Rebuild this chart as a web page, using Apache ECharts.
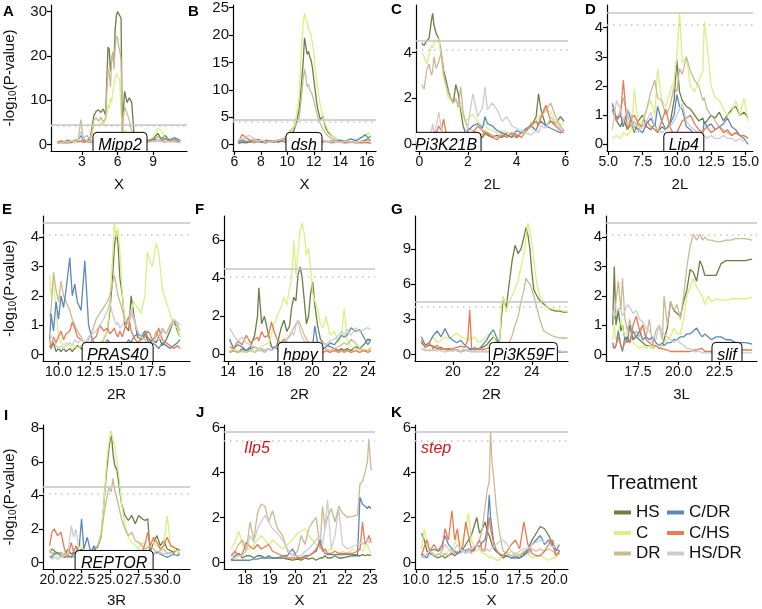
<!DOCTYPE html>
<html><head><meta charset="utf-8">
<script src="https://cdn.jsdelivr.net/npm/echarts@6/dist/echarts.min.js"></script>
<style>html,body{margin:0;padding:0;background:#fff}#c{width:762px;height:609px}</style>
</head><body><div id="c"></div>
<script>
// ---------------- DATA ----------------
const TREATMENTS = ['HS','C','DR','C/DR','C/HS','HS/DR'];
const THRESH_AI = [4.5, 4.1];
const THRESH_JK = [5.8, 5.4];

// Panel A (X, Mipp2)
const A_x    = [0.9,1.2,1.5,1.8,2.1,2.4,2.7,2.9,3.1,3.4,3.7,4.0,4.2,4.4,4.6,4.8,5.0,5.1,5.2,5.3,5.4,5.5,5.6,5.7,5.8,5.9,6.0,6.1,6.2,6.3,6.4,6.5,6.6,6.8,7.0,7.2,7.4,7.7,8.0,8.4,8.8,9.1,9.4,9.7,10.0,10.4,10.8,11.1,11.3];
const A_HS   = [0.3,0.2,0.4,0.3,0.5,0.4,0.6,0.8,0.5,0.7,1.5, 6.5,7.5,7.8,7.2,8.0,6.5, 15,22,21.5,16.5,19,20.5,18,26,29,30,29.5,29,28.5, 3,8,12,9.5,10.5,9.5,2, 1.2,0.8,0.6,1.0,1.5,2.5,1.2,2.0,1.0,1.3,0.8,0.6];
const A_C    = [0.2,0.3,0.2,0.4,0.3,0.5,0.4,1.0,0.6,0.5,0.8, 4.0,4.5,4.2,5.0,4.5,5.5, 7,9,8,10.5,9.5,12,13,15,16,16.3,15,14,7, 4.5,3.5,3.0,2.5,2.0,1.5,1.0, 0.5,0.4,0.5,1.0,2.0,3.7,3.0,1.5,1.0,1.5,1.0,0.8];
const A_DR   = [0.3,0.5,0.3,0.6,0.4,0.8,1.2,5.6,1.5,2.0,1.0, 5.5,6.0,5.2,6.2,5.0,6.0, 12,17,16,13,19,21,17,22,24.5,24,22,21,19, 2,6,8.5,7,5.5,3,1.0, 0.8,0.5,0.4,0.7,1.0,1.8,0.8,1.2,0.6,0.9,0.5,0.4];
const A_CDR  = [0.3,0.5,0.4,0.7,0.5,0.9,1.2,2.0,1.0,0.6,0.8, 0.5,0.4,0.6,0.5,0.4,0.6, 0.5,0.7,0.6,0.5,0.4,0.6,0.5,0.7,0.6,0.5,0.4,0.5,0.6, 0.5,0.4,0.6,0.5,0.8,1.0,0.7, 0.9,1.1,0.8,1.0,1.2,0.9,0.7,1.3,1.0,1.5,1.2,0.8];
const A_CHS  = [0.5,0.8,0.6,1.0,0.7,0.9,0.6,0.8,0.5,0.7,0.4, 0.6,0.5,0.7,0.5,0.6,0.4, 0.5,0.6,0.4,0.5,0.7,0.5,0.6,0.4,0.5,0.6,0.4,0.5,0.6, 0.4,0.5,0.7,0.6,0.8,0.5,0.6, 0.4,0.6,0.5,0.8,0.6,0.9,0.7,0.5,0.8,0.6,0.7,0.5];
const A_HSDR = [0.4,0.3,0.6,0.5,0.8,0.7,1.2,3.0,1.5,0.8,0.6, 0.5,0.4,0.6,0.3,0.5,0.4, 0.3,0.5,0.4,0.3,0.5,0.4,0.3,0.5,0.4,0.3,0.4,0.3,0.5, 0.4,0.3,0.5,0.4,0.6,0.4,0.5, 0.3,0.4,0.6,0.5,0.8,1.0,0.6,0.7,0.5,0.6,0.4,0.5];
const A_xTicks = [3,6,9];
const A_yTicks = [0,10,20,30];

// Panel B (X, dsh)
const B_x    = [6.3,6.6,6.9,7.2,7.5,7.8,8.1,8.4,8.7,9.0,9.3,9.6,9.9, 10.2,10.5,10.7,10.9, 11.0,11.1,11.2,11.3,11.4,11.5,11.6,11.7,11.8,11.9,12.0,12.1,12.2,12.3, 12.5,12.7,12.9,13.1,13.4,13.7,14.0,14.4,14.8,15.2,15.6,15.9,16.1,16.3];
const B_HS   = [0.2,0.4,0.3,0.5,0.3,0.6,0.4,0.3,0.5,0.4,0.6,0.8,1.0, 1.8,2.5,4.0,6.5, 9,12,15,19.5,18,16.5,17,16,15.4,14,12,10,8,6.5, 4.5,5.2,3.0,2.2,1.5,1.0,0.6,0.4,0.5,0.3,0.6,0.8,1.0,0.7];
const B_C    = [0.5,0.8,1.2,0.6,0.4,0.7,0.5,0.4,0.6,0.5,0.7,0.9,1.2, 2.2,3.5,5.5,9, 14,19,22,24,23,22.5,21,20.5,20,18.5,17,14,12,10, 7,5,3.5,2.5,1.5,1.0,0.5,0.4,0.6,0.8,1.2,1.5,2.2,1.6];
const B_DR   = [0.4,0.6,0.5,0.8,0.5,0.4,0.6,0.5,0.4,0.6,0.8,1.0,1.5, 2.5,3.0,3.8,5.0, 7,9.5,12,13.8,12.5,10.5,11,10,9.5,9,8,7,6,5, 3.8,2.8,2.0,1.5,1.0,0.7,0.5,0.3,0.4,0.3,0.4,0.3,0.5,0.4];
const B_CDR  = [0.3,0.8,0.5,0.4,1.0,0.6,0.4,0.8,0.5,0.7,0.4,0.6,0.5, 0.8,0.6,0.5,0.7, 0.6,0.5,0.4,0.6,0.5,0.4,0.6,0.5,0.4,0.6,0.5,0.4,0.5,0.6, 0.5,0.4,0.6,0.5,0.7,0.5,0.8,0.6,1.0,0.7,1.3,1.8,1.2,1.5];
const B_CHS  = [0.5,1.8,1.2,0.8,0.5,1.0,0.6,0.4,0.7,0.5,0.8,0.6,0.4, 0.7,0.5,0.8,0.6, 0.5,0.4,0.6,0.5,0.4,0.6,0.5,0.4,0.6,0.5,0.7,0.5,0.4,0.6, 0.5,0.7,0.5,0.4,0.3,0.5,0.4,0.3,0.5,0.4,0.3,0.4,0.3,0.2];
const B_HSDR = [0.8,1.0,1.5,1.6,0.9,0.6,0.8,0.5,0.4,0.6,0.8,1.0,1.3, 1.0,0.8,0.6,0.5, 0.4,0.6,0.5,0.4,0.5,0.6,0.4,0.5,0.6,0.4,0.5,0.6,0.5,0.4, 0.6,0.8,0.5,0.4,0.6,0.5,0.4,0.6,0.5,0.4,0.6,0.5,0.8,0.6];
const B_xTicks = [6,8,10,12,14,16];
const B_yTicks = [0,5,10,15,20,25];

// Panel C (2L, Pi3K21B)
const C_x    = [0.1,0.2,0.3,0.4,0.5,0.55, 0.6,0.7,0.8,0.9,1.0,1.1,1.2,1.3,1.4,1.5,1.6,1.7,1.8,1.9,2.0, 2.2,2.4,2.6,2.7,2.8, 3.0,3.2,3.4,3.6,3.8,4.0,4.2,4.4,4.6,4.8, 4.9,5.0,5.2,5.4,5.6,5.8,5.95];
const C_HS   = [4.4,4.3,4.5,4.6,5.4,5.7, 5.2,4.8,4.6,4.0,3.2,2.8,2.3,2.0,1.8,2.6,2.2,1.5,0.8,0.5,0.3, 0.5,0.4,0.3,0.5,0.4, 0.3,0.4,0.3,0.5,0.4,0.3,0.5,0.6,0.8,1.2, 2.2,1.5,0.8,1.0,0.9,1.2,1.0];
const C_C    = [4.0,3.8,3.5,3.9,4.3,4.2, 4.4,4.5,4.6,3.8,3.0,2.5,2.0,1.9,1.8,1.9,1.8,1.7,1.2,1.0,1.1, 1.3,1.0,0.8,0.9,0.7, 0.6,0.5,0.6,0.5,0.4,0.4,0.5,0.6,0.8,1.0, 1.2,1.3,1.5,1.4,1.0,0.8,1.0];
const C_DR   = [2.6,2.4,3.2,3.5,3.0,3.2, 3.8,3.3,3.6,4.0,3.0,2.6,2.2,2.0,1.8,2.0,1.6,2.5,1.4,1.0,0.7, 0.6,0.5,0.4,0.6,0.5, 0.4,0.3,0.5,0.4,0.3,0.4,0.5,0.6,0.8,1.0, 0.9,1.2,1.5,1.8,1.2,0.8,0.6];
const C_CDR  = [0.2,0.3,0.2,0.3,0.2,0.3, 0.2,0.3,0.2,0.3,0.4,0.3,0.2,0.3,0.2,0.3,0.2,0.3,0.5,0.4,0.6, 0.8,0.9,0.7,1.2,0.9, 0.8,0.6,0.5,0.4,0.3,0.6,0.5,0.7,0.8,0.6, 0.9,1.0,0.8,0.7,0.6,0.5,0.6];
const C_CHS  = [0.3,0.2,0.4,0.3,0.5,0.4, 0.6,0.5,0.8,0.6,1.1,0.5,0.4,0.3,0.2,0.3,0.2,0.3,0.2,0.3,0.3, 0.5,0.8,0.6,0.4,0.5, 0.3,0.2,0.4,0.3,0.5,0.4,0.3,0.6,0.9,1.0, 0.8,1.2,1.7,1.0,0.8,0.6,0.5];
const C_HSDR = [0.3,0.2,0.3,0.4,0.6,0.9, 0.5,0.8,1.4,0.7,0.5,0.4,0.3,0.2,0.3,0.2,0.3,0.2,0.4,0.5,0.8, 2.2,1.2,1.6,2.5,1.5, 1.8,1.5,1.0,1.2,0.8,0.7,0.6,0.5,0.4,0.6, 0.5,0.8,0.7,1.2,0.9,0.7,0.5];
const C_xTicks = [0,2,4,6];
const C_yTicks = [0,2,4];

// Panel D (2L, Lip4)
const D_x    = [5.3,5.6,5.9,6.1,6.4,6.7,6.9,7.2,7.5,7.8, 8.1,8.4,8.6,8.9,9.2,9.5,9.8,10.0,10.2,10.4, 10.7,11.0,11.3,11.6,11.9,12.0,12.2,12.5,12.8,13.1, 13.4,13.7,14.0,14.3,14.6,14.9,15.2];
const D_HS   = [1.2,0.8,0.6,0.9,0.5,0.7,0.4,0.8,1.0,0.6, 0.5,0.7,0.4,0.6,0.5,0.7,1.5,2.9,1.8,1.5, 1.3,1.2,1.0,0.8,0.9,0.7,0.8,1.0,0.9,1.1, 0.8,1.0,1.2,1.3,1.0,1.1,0.9];
const D_C    = [0.2,0.3,0.2,0.4,0.3,0.5,1.9,0.6,0.8,1.2, 1.5,1.0,2.6,1.5,1.3,1.8,2.2,3.0,4.5,2.8, 3.0,2.0,1.8,2.2,2.5,4.2,3.4,2.0,1.6,1.5, 1.2,1.0,1.1,1.5,1.0,1.6,0.8];
const D_DR   = [1.4,0.8,1.2,1.6,1.0,0.6,0.8,0.5,0.7,1.2, 1.8,2.2,1.6,1.5,1.0,1.3,2.0,1.8,2.6,2.4, 3.0,2.5,2.2,2.0,1.5,1.6,1.2,1.0,0.8,0.6, 0.5,0.4,0.3,0.4,0.3,0.3,0.2];
const D_CDR  = [1.4,0.9,1.0,0.6,1.2,0.8,0.6,0.5,0.4,0.7, 0.9,0.6,1.3,0.8,0.5,0.7,1.0,1.7,1.3,1.2, 0.6,0.5,0.3,0.2,0.4,0.8,0.6,0.7,0.5,0.6, 0.7,0.9,0.6,0.5,0.3,0.2,0.0];
const D_CHS  = [1.2,0.8,1.0,2.2,0.5,0.9,1.0,0.7,0.6,0.8, 0.6,0.5,0.4,0.8,1.2,0.6,0.3,0.4,0.6,0.8, 0.9,1.0,0.7,0.5,0.4,0.5,0.6,0.4,0.5,0.6, 0.4,0.5,0.3,0.4,0.3,0.3,0.2];
const D_HSDR = [0.5,1.5,1.2,0.8,1.2,1.0,0.5,0.4,0.6,0.8, 1.1,0.6,0.5,0.4,0.5,0.6,0.8,1.0,1.2,1.4, 0.8,0.6,0.5,0.3,0.4,0.3,0.2,0.3,0.2,0.2, 0.3,0.2,0.2,0.1,0.2,0.1,0.1];
const D_xTicks = [5,7.5,10,12.5,15];
const D_yTicks = [0,1,2,3,4];

// Panel E (2R, PRAS40)
const E_x    = [9.3,9.4,9.6,9.8,10.0,10.2,10.4,10.6,10.9,11.1, 11.3,11.5,11.8,12.1,12.4,12.7,13.0,13.3,13.6,13.9, 14.1,14.3,14.45,14.6,14.75,14.9,15.1,15.3,15.6,15.8, 16.0,16.3,16.6,16.9,17.1,17.3,17.5,17.8,18.0,18.3, 18.6,18.9,19.2,19.5,19.7];
const E_HS   = [0.3,0.2,0.4,0.1,0.2,0.1,0.2,0.1,0.2,0.1, 0.2,0.3,0.2,0.1,0.2,0.3,0.4,0.3,0.5,0.8, 1.5,2.5,3.6,4.2,3.8,2.6,2.0,1.0,0.8,2.0, 1.4,0.6,0.5,0.7,0.5,0.4,0.5,0.4,0.6,0.3, 0.5,0.8,1.2,0.8,0.6];
const E_C    = [2.7,2.0,2.5,1.5,0.6,0.4,0.3,0.4,0.3,0.2, 0.3,0.2,0.3,0.2,0.3,0.4,0.3,0.4,0.5,0.8, 1.8,3.2,4.5,4.0,4.3,3.5,2.0,1.2,1.0,1.5, 1.8,1.6,1.4,2.0,3.5,3.2,3.0,3.8,3.5,2.2, 1.8,1.4,1.0,0.9,0.6];
const E_DR   = [1.3,1.5,2.8,2.2,1.8,2.5,2.0,1.8,1.5,1.2, 1.0,0.8,0.6,0.3,0.5,0.8,1.2,1.4,1.6,1.8, 2.0,2.4,2.7,2.4,2.0,1.8,1.5,1.2,1.0,1.4, 1.2,0.8,0.6,0.5,0.4,0.5,0.4,0.8,0.6,0.9, 0.7,1.0,1.2,1.0,0.8];
const E_CDR  = [0.5,1.4,0.8,1.8,1.2,2.0,1.6,2.2,3.3,2.0, 2.4,1.8,1.5,3.2,1.0,0.5,0.3,0.4,0.3,0.5, 0.4,0.3,0.4,0.3,0.4,0.3,0.4,0.3,0.5,0.4, 0.6,0.7,0.6,0.8,0.6,0.5,0.4,0.3,0.2,0.4, 0.3,0.2,0.3,0.4,0.5];
const E_CHS  = [0.5,0.2,0.6,0.4,0.6,0.8,0.5,0.7,0.8,1.1, 0.9,0.6,0.5,0.4,0.3,0.5,0.6,1.0,0.8,0.9, 0.7,0.8,0.9,0.7,0.6,0.8,0.6,0.9,1.3,0.8, 0.6,0.4,0.5,0.6,0.8,0.7,0.5,0.6,0.9,0.5, 0.4,0.3,0.2,0.3,0.2];
const E_HSDR = [0.8,0.6,0.5,0.3,0.2,0.3,0.2,0.3,0.4,0.3, 0.5,0.4,0.5,0.4,0.6,0.7,0.8,1.0,1.2,1.5, 1.8,1.4,1.2,1.0,1.1,0.9,1.0,1.2,1.1,1.5, 1.3,0.8,0.6,0.5,0.4,0.3,0.4,0.6,0.5,0.8, 0.7,0.9,1.2,1.1,1.0];
const E_xTicks = [10,12.5,15,17.5];
const E_yTicks = [0,1,2,3,4];

// Panel F (2R, hppy)
const F_x    = [14.1,14.4,14.7,15.0,15.3,15.6,15.9,16.1,16.2,16.4, 16.6,16.9,17.1,17.3,17.5,17.8,18.0,18.2,18.4,18.55, 18.7,18.85,19.0,19.15,19.3,19.45,19.6,19.75,19.9,20.05, 20.2,20.4,20.6,20.8,21.0,21.3,21.6,21.9,22.1,22.3, 22.5,22.8,23.1,23.4,23.7,24.0,24.2];
const F_HS   = [0.1,0.2,0.1,0.3,0.2,0.4,1.0,2.0,3.5,1.6, 2.0,1.0,0.4,0.3,0.5,1.4,1.8,1.2,1.5,2.5, 3.0,2.8,4.2,4.6,4.0,2.8,1.6,2.0,3.2,3.8, 2.6,1.5,0.8,0.6,0.5,0.4,0.3,0.2,0.3,0.2, 0.3,0.2,0.4,0.3,0.5,0.8,0.7];
const F_C    = [0.2,0.3,0.2,0.1,0.2,0.3,0.2,0.3,0.2,0.4, 0.5,0.6,1.0,1.6,2.0,2.5,3.0,2.6,3.5,4.0, 6.0,4.2,5.4,6.5,6.9,6.3,5.2,5.6,4.5,3.2, 2.8,2.4,1.6,1.4,2.0,1.0,1.2,0.6,1.0,2.4, 0.8,0.4,0.3,0.2,0.3,0.2,0.4];
const F_DR   = [0.1,0.2,0.1,0.2,0.1,0.2,0.1,0.2,0.1,0.2, 0.1,0.3,0.2,0.3,0.4,0.5,0.6,0.8,1.0,1.2, 1.4,1.6,1.8,1.6,1.3,1.0,0.8,0.6,0.5,0.4, 0.3,0.3,0.2,0.3,0.3,0.2,0.3,0.4,0.5,0.6, 0.5,0.8,0.6,0.3,0.2,0.2,0.3];
const F_CDR  = [0.8,0.3,0.5,0.4,0.2,0.3,0.4,0.3,0.2,0.3, 0.2,0.3,0.2,0.4,0.3,0.2,0.3,0.2,0.3,0.2, 0.3,0.2,0.3,0.2,0.3,0.2,0.3,0.2,0.3,0.5, 1.5,0.6,0.4,0.3,0.4,0.6,0.5,0.8,1.0,0.9, 1.0,1.4,1.2,1.3,0.9,0.5,0.8];
const F_CHS  = [0.4,0.3,0.7,0.5,1.0,0.6,0.8,0.9,0.7,1.2, 0.9,1.0,1.7,1.2,0.8,0.6,0.8,0.6,0.4,0.5, 0.3,0.4,0.3,0.2,0.3,0.2,0.3,0.2,0.2,0.1, 0.2,0.1,0.2,0.1,0.2,0.1,0.2,0.1,0.2,0.1, 0.2,0.1,0.2,0.1,0.2,0.1,0.2];
const F_HSDR = [1.4,1.0,0.7,0.9,0.6,0.5,0.4,0.3,0.4,0.3, 0.2,0.3,0.2,0.3,0.4,0.5,0.6,0.8,0.9,1.2, 1.0,1.5,1.8,1.2,0.9,0.7,0.5,0.4,0.3,0.4, 0.5,0.4,0.5,0.6,0.5,0.7,0.8,1.0,1.2,1.0, 1.3,1.0,1.4,1.2,1.3,1.4,1.3];
const F_xTicks = [14,16,18,20,22,24];
const F_yTicks = [0,2,4,6];

// Panel G (2R, Pi3K59F)
const G_x    = [18.4,18.6,18.8,19.0,19.2,19.4,19.6,19.8,20.0,20.2, 20.4,20.6,20.75,20.85,20.95,21.1,21.3,21.5,21.7,21.9, 22.05,22.2,22.35,22.45,22.55,22.7,22.85,23.0,23.15,23.3, 23.45,23.6,23.7,23.8,23.9,24.0,24.1,24.25,24.4,24.6, 24.8,25.0,25.2,25.4,25.6,25.8];
const G_HS   = [1.0,0.6,0.8,0.7,0.5,0.6,0.4,0.5,0.3,0.4, 0.3,0.4,0.3,0.4,0.5,0.4,0.5,0.6,0.8,1.2, 1.5,1.2,0.8,3.0,4.8,4.0,6.0,8.0,9.3,8.6, 9.0,10.0,10.8,10.2,9.0,7.0,5.5,5.0,4.6,4.3, 4.0,3.8,3.7,3.7,3.6,3.6];
const G_C    = [1.2,0.6,1.0,1.5,1.0,1.2,1.5,1.3,1.6,1.8, 1.5,1.4,1.2,1.5,1.3,1.5,1.0,1.2,1.5,1.8, 1.6,1.0,0.5,4.0,5.0,3.6,4.5,5.0,5.6,6.2, 7.5,8.5,10.0,11.2,10.5,9.5,8.0,6.0,5.0,4.5, 4.0,3.9,3.8,3.8,3.7,3.7];
const G_DR   = [0.5,0.4,0.3,0.4,0.3,0.5,0.4,0.3,0.4,0.3, 0.2,0.3,0.4,0.3,0.2,0.3,0.2,0.3,0.2,0.3, 0.3,0.2,0.3,0.4,0.5,0.8,1.0,1.6,2.5,3.2, 4.5,5.5,6.5,6.2,6.0,5.5,5.0,4.0,3.0,2.0, 1.8,1.6,1.5,1.4,1.4,1.4];
const G_CDR  = [1.5,0.8,1.0,1.6,2.0,1.5,2.2,1.5,1.2,1.0, 1.2,0.8,0.6,0.5,0.4,0.6,0.4,0.8,1.2,1.8, 2.1,1.5,1.0,1.1,0.8,0.5,0.3,0.2,0.2,0.3, 0.2,0.2,0.3,0.2,0.2,0.3,0.2,0.2,0.3,0.2, 0.2,0.2,0.3,0.2,0.2,0.2];
const G_CHS  = [1.2,0.6,1.0,0.5,0.8,0.4,0.5,0.4,0.5,0.6, 0.7,0.6,1.2,3.8,0.5,0.4,0.5,0.4,0.5,0.6, 0.4,0.3,0.2,0.3,0.2,0.3,0.2,0.3,0.2,0.3, 0.2,0.2,0.3,0.2,0.3,0.2,0.2,0.3,0.2,0.2, 0.3,0.2,0.2,0.3,0.2,0.2];
const G_HSDR = [0.5,0.3,0.4,0.3,0.4,0.3,0.2,0.3,0.3,0.4, 0.3,0.4,0.3,0.2,0.3,0.2,0.3,0.2,0.3,0.2, 0.3,0.2,0.3,0.2,0.2,0.3,0.2,0.2,0.3,0.2, 0.2,0.3,0.2,0.2,0.3,0.2,0.2,0.3,0.2,0.2, 0.3,0.2,0.2,0.3,0.2,0.2];
const G_xTicks = [20,22,24];
const G_yTicks = [0,3,6,9];

// Panel H (3L, slif)
const H_x    = [15.95,16.05,16.15,16.3,16.45,16.55,16.7,16.85,17.0,17.2, 17.4,17.6,17.8,18.0,18.2,18.4,18.6,18.8,19.0,19.1, 19.3,19.5,19.7,19.9,20.1,20.3,20.5,20.7,20.9,21.1, 21.3,21.45,21.6,21.8,22.0,22.3,22.6,22.9,23.2,23.5, 23.8,24.1,24.5];
const H_HS   = [1.0,3.0,1.0,1.5,0.8,1.0,0.5,0.6,0.4,0.8, 0.6,0.5,0.4,0.3,0.3,0.2,0.3,0.2,0.3,0.5, 0.9,1.8,1.5,1.4,1.3,1.8,2.2,2.9,2.8,2.5, 3.2,3.0,2.7,2.7,2.7,2.7,3.1,3.2,3.2,3.2, 3.2,3.2,3.25];
const H_C    = [0.5,1.0,0.5,0.8,1.2,0.9,0.6,0.8,1.0,0.4, 0.3,0.2,0.3,0.2,0.3,0.2,0.3,0.2,0.3,0.4, 0.5,0.6,0.9,0.7,0.7,1.2,2.0,2.3,2.6,2.3, 2.1,2.0,1.7,2.0,1.8,1.9,1.85,1.85,1.9,1.9, 1.9,1.9,1.95];
const H_DR   = [1.5,1.2,1.8,2.5,1.5,2.6,1.2,0.8,1.2,0.5, 0.8,0.6,1.0,0.6,1.2,0.3,0.8,1.0,0.5,2.0, 1.0,1.8,1.5,1.7,1.2,2.0,3.0,3.7,4.1,3.9, 4.1,3.9,4.0,3.9,3.9,3.85,3.85,3.9,3.9,3.95, 3.95,3.95,3.9];
const H_CDR  = [0.4,0.2,0.3,0.8,0.3,0.1,0.6,0.4,1.0,0.5, 0.6,0.8,0.5,0.6,0.5,0.6,0.4,0.3,0.4,0.3, 0.4,0.4,0.5,0.5,0.6,0.6,0.7,0.7,0.8,0.9, 0.7,0.6,0.7,0.6,0.5,0.6,0.6,0.5,0.5,0.4, 0.4,0.4,0.35];
const H_CHS  = [0.3,0.2,0.3,0.6,0.3,0.2,0.4,0.5,0.4,1.0, 1.3,0.8,1.0,0.5,0.4,0.3,0.3,0.2,0.2,0.2, 0.15,0.1,0.1,0.1,0.1,0.1,0.1,0.1,0.15,0.15, 0.2,0.2,0.1,0.1,0.1,0.1,0.1,0.15,0.2,0.15, 0.15,0.15,0.15];
const H_HSDR = [1.5,1.3,1.4,1.6,1.5,1.3,1.5,1.7,1.6,1.4, 1.5,1.2,1.1,0.9,0.8,0.6,0.5,1.0,0.8,0.7, 0.6,0.5,0.4,0.5,0.4,0.3,0.2,0.2,0.1,0.1, 0.1,0.05,0.05,0.05,0.05,0.05,0.05,0.05,0.05,0.05, 0.05,0.05,0.05];
const H_xTicks = [17.5,20,22.5];
const H_yTicks = [0,1,2,3,4];

// Panel I (3R, REPTOR)
const I_x    = [19.7,19.9,20.1,20.4,20.7,21.0,21.3,21.6,21.8,22.0, 22.3,22.5,22.7,23.0,23.3,23.6,23.9,24.2,24.45,24.7, 24.9,25.1,25.25,25.4,25.6,25.8,26.0,26.3,26.6,26.9, 27.2,27.5,27.8,28.1,28.3,28.5,28.8,29.1,29.4,29.7, 30.0,30.3,30.6,30.9,31.1];
const I_HS   = [0.6,0.8,0.7,0.5,0.6,0.4,0.8,0.5,0.6,0.5, 0.7,0.8,0.6,0.5,0.6,0.8,0.9,1.5,3.5,5.5, 6.8,7.8,6.5,5.8,5.5,4.5,3.5,2.8,2.5,2.8, 2.3,2.8,2.6,2.5,2.6,0.6,1.2,1.6,1.0,1.3, 0.8,0.7,0.6,0.8,0.7];
const I_C    = [0.8,0.6,0.5,0.3,0.4,0.6,0.4,0.3,0.5,0.3, 1.2,0.9,0.8,0.6,0.7,0.8,1.0,1.8,3.5,6.0, 7.2,7.8,7.3,7.0,6.0,5.0,3.5,2.2,1.5,1.2, 1.0,0.8,1.2,1.0,0.9,1.0,1.2,1.0,0.8,1.0, 2.8,1.0,0.8,0.6,0.8];
const I_DR   = [0.7,0.5,0.6,0.5,0.6,0.4,0.3,0.4,0.3,0.4, 0.3,0.5,0.4,0.5,0.6,0.8,1.0,1.5,2.8,3.8, 4.5,4.2,5.0,4.3,3.8,3.2,2.6,2.0,1.6,1.8, 1.3,1.2,1.0,0.8,0.9,1.0,0.8,0.6,0.7,0.8, 0.5,0.6,0.5,0.4,0.5];
const I_CDR  = [0.4,0.3,0.5,0.6,0.4,0.3,0.4,0.3,0.5,0.6, 1.0,2.6,0.8,1.5,0.6,1.0,0.3,0.2,0.2,0.3, 0.2,0.2,0.3,0.2,0.2,0.3,0.2,0.2,0.3,0.2, 0.3,0.4,0.3,0.4,0.5,0.4,0.5,0.6,0.5,0.4, 0.3,0.4,0.5,0.4,0.5];
const I_CHS  = [1.0,1.8,2.0,1.6,1.8,0.8,0.3,1.2,0.6,1.0, 0.4,0.5,0.6,0.5,0.4,0.3,0.2,0.3,0.2,0.2, 0.3,0.2,0.2,0.3,0.2,0.3,0.3,0.4,0.3,0.4, 0.5,0.4,0.6,1.2,1.8,1.0,1.5,1.2,0.8,1.0, 1.5,1.0,0.9,0.8,0.7];
const I_HSDR = [0.3,0.2,0.3,0.2,0.3,0.4,0.5,2.2,1.5,2.0, 0.6,0.4,0.3,0.4,0.3,0.4,0.3,0.3,0.4,0.3, 0.4,0.5,0.4,0.5,0.4,0.3,0.3,0.2,0.3,0.2, 0.2,0.3,0.2,0.3,0.4,0.5,0.6,0.5,0.6,0.5, 0.6,0.5,0.4,0.5,0.6];
const I_xTicks = [20,22.5,25,27.5,30];
const I_yTicks = [0,2,4,6,8];

// Panel J (X, Ilp5)
const J_x    = [17.45,17.6,17.75,17.9,18.05,18.2,18.35,18.5,18.65,18.8, 18.95,19.1,19.3,19.5,19.7,19.9,20.1,20.25,20.4,20.55, 20.7,20.85,21.0,21.1,21.2,21.3,21.45,21.6,21.75,21.9, 22.1,22.3,22.5,22.6,22.7,22.8,22.9,22.95,23.05];
const J_HS   = [0.1,0.3,0.4,0.2,0.3,0.3,0.2,0.3,0.3,0.2, 0.3,0.2,0.2,0.2,0.15,0.1,0.15,0.1,0.2,0.15, 0.2,0.1,0.2,0.2,0.3,0.2,0.2,0.3,0.2,0.2, 0.25,0.3,0.3,0.3,0.35,0.3,0.35,0.3,0.3];
const J_C    = [0.6,0.9,1.4,0.8,0.6,0.6,0.8,1.0,1.2,1.0, 0.8,1.0,0.8,0.6,0.8,1.0,1.3,1.4,1.5,1.2, 1.0,0.8,0.7,0.6,0.6,0.5,0.6,0.5,0.4,0.5, 0.4,0.6,0.5,0.6,0.5,0.7,0.8,0.6,0.4];
const J_DR   = [0.3,0.5,0.8,1.0,0.5,1.8,1.0,2.2,2.6,2.5, 1.8,2.3,1.5,1.2,0.5,0.3,0.5,1.2,0.8,1.5, 1.8,2.0,0.6,2.5,1.5,2.0,2.4,1.8,2.5,2.2, 2.0,2.05,2.1,3.5,3.6,4.0,4.5,5.5,4.1];
const J_CDR  = [0.1,0.1,0.1,0.1,0.1,0.1,0.15,0.15,0.2,0.2, 0.2,0.2,0.2,0.3,0.3,0.6,0.2,0.2,0.3,0.3, 0.4,0.5,1.0,0.6,0.4,0.35,0.35,0.35,0.35,0.35, 0.35,0.35,0.35,2.9,2.6,2.5,2.4,2.5,2.4];
const J_CHS  = [0.3,0.5,0.3,0.4,0.9,0.7,0.6,0.8,0.6,0.7, 0.8,0.5,0.4,0.3,0.2,0.2,0.2,0.2,0.2,0.3, 0.4,0.6,0.9,0.5,0.6,0.4,0.4,0.5,0.4,0.4, 0.4,0.4,0.5,0.6,1.8,0.8,1.0,1.2,0.9];
const J_HSDR = [0.2,0.2,0.3,0.3,0.5,1.2,0.9,1.5,1.8,2.1, 1.8,1.5,1.3,1.0,0.6,0.3,0.3,0.3,0.5,0.6, 0.8,1.0,1.2,0.8,1.5,2.8,0.6,1.2,2.4,0.8, 0.6,0.7,0.8,0.9,0.8,1.0,1.0,0.9,0.9];
const J_xTicks = [18,19,20,21,22,23];
const J_yTicks = [0,2,4,6];

// Panel K (X, step)
const K_x    = [10.4,10.6,10.8,11.0,11.3,11.6,11.9,12.1,12.35,12.6, 12.8,13.0,13.2,13.4,13.6,13.8,14.0,14.2,14.4,14.6, 14.8,15.0,15.15,15.3,15.4,15.5,15.65,15.8,16.0,16.3, 16.6,16.9,17.2,17.5,17.8,18.1,18.4,18.7,19.0,19.3, 19.6,19.9,20.1,20.4];
const K_HS   = [1.3,1.0,0.5,0.4,0.3,0.2,0.3,0.2,0.3,0.4, 0.3,0.4,0.5,0.6,0.8,1.0,1.2,1.6,2.0,1.3, 1.5,1.8,1.4,1.2,1.0,0.8,0.6,0.5,0.4,0.2, 0.3,0.2,0.3,0.2,0.4,0.6,1.0,1.3,1.6,1.5, 1.2,0.8,0.6,0.5];
const K_C    = [0.6,1.5,0.8,0.6,0.5,0.6,0.4,0.3,0.5,0.6, 0.8,1.2,0.8,1.0,1.5,2.2,1.0,0.7,0.5,0.6, 0.4,0.4,0.3,0.2,0.3,0.2,0.2,0.1,0.1,0.3, 0.4,0.5,0.3,0.4,0.3,0.4,0.2,0.3,0.3,0.2, 0.1,0.2,0.2,0.4];
const K_DR   = [0.3,0.2,0.4,0.5,0.3,0.4,0.3,0.4,0.3,0.5, 0.4,0.5,0.4,0.5,0.4,0.5,0.4,0.6,0.8,1.0, 1.5,2.5,3.2,3.6,5.8,4.5,3.6,2.5,1.5,0.5, 0.4,0.3,0.4,0.3,0.5,0.4,0.6,0.5,0.6,0.5, 0.6,0.5,0.4,0.4];
const K_CDR  = [0.4,0.3,0.2,0.5,0.6,0.5,0.8,1.2,0.8,0.6, 0.5,0.4,0.5,0.6,0.5,0.6,0.5,0.6,0.8,0.7, 0.9,1.0,1.5,3.0,2.0,1.5,0.8,0.5,0.4,0.3, 0.3,0.2,0.2,0.2,0.3,0.5,0.8,1.0,1.2,0.8, 1.0,0.7,0.5,0.8];
const K_CHS  = [0.3,0.7,1.0,0.5,0.8,0.5,0.6,1.5,1.0,2.3, 1.0,1.5,0.5,0.8,1.8,1.2,0.6,0.5,0.8,1.0, 0.5,0.6,1.2,2.0,1.5,1.2,0.8,0.6,0.4,0.3, 0.5,0.8,1.0,0.6,1.8,0.8,0.4,0.3,0.3,0.5, 0.8,1.0,0.3,0.5];
const K_HSDR = [0.2,0.3,0.4,0.5,0.4,0.3,0.5,0.8,0.6,0.5, 0.6,0.8,0.6,0.5,0.6,0.5,0.6,0.7,0.8,0.6, 0.5,0.5,0.6,0.5,0.6,0.6,0.7,0.8,0.9,1.0, 0.8,0.5,0.4,0.5,0.6,0.6,0.8,0.9,1.0,0.9, 0.8,0.7,0.7,0.8];
const K_xTicks = [10,12.5,15,17.5,20];
const K_yTicks = [0,2,4,6];

// ---------------- ASSEMBLY ----------------
const DATA = {
  A:{x:A_x, s:[A_HS,A_C,A_DR,A_CDR,A_CHS,A_HSDR], xt:A_xTicks, yt:A_yTicks, thr:THRESH_AI, xName:'X'},
  B:{x:B_x, s:[B_HS,B_C,B_DR,B_CDR,B_CHS,B_HSDR], xt:B_xTicks, yt:B_yTicks, thr:THRESH_AI, xName:'X'},
  C:{x:C_x, s:[C_HS,C_C,C_DR,C_CDR,C_CHS,C_HSDR], xt:C_xTicks, yt:C_yTicks, thr:THRESH_AI, xName:'2L'},
  D:{x:D_x, s:[D_HS,D_C,D_DR,D_CDR,D_CHS,D_HSDR], xt:D_xTicks, yt:D_yTicks, thr:THRESH_AI, xName:'2L'},
  E:{x:E_x, s:[E_HS,E_C,E_DR,E_CDR,E_CHS,E_HSDR], xt:E_xTicks, yt:E_yTicks, thr:THRESH_AI, xName:'2R'},
  F:{x:F_x, s:[F_HS,F_C,F_DR,F_CDR,F_CHS,F_HSDR], xt:F_xTicks, yt:F_yTicks, thr:THRESH_AI, xName:'2R'},
  G:{x:G_x, s:[G_HS,G_C,G_DR,G_CDR,G_CHS,G_HSDR], xt:G_xTicks, yt:G_yTicks, thr:THRESH_AI, xName:'2R'},
  H:{x:H_x, s:[H_HS,H_C,H_DR,H_CDR,H_CHS,H_HSDR], xt:H_xTicks, yt:H_yTicks, thr:THRESH_AI, xName:'3L'},
  I:{x:I_x, s:[I_HS,I_C,I_DR,I_CDR,I_CHS,I_HSDR], xt:I_xTicks, yt:I_yTicks, thr:THRESH_AI, xName:'3R'},
  J:{x:J_x, s:[J_HS,J_C,J_DR,J_CDR,J_CHS,J_HSDR], xt:J_xTicks, yt:J_yTicks, thr:THRESH_JK, xName:'X'},
  K:{x:K_x, s:[K_HS,K_C,K_DR,K_CDR,K_CHS,K_HSDR], xt:K_xTicks, yt:K_yTicks, thr:THRESH_JK, xName:'X'}
};

const LAYOUT = {
  A:{left:51, top:5,   width:136, height:146, xMin:0.38,  xMax:11.87, yMin:-1.5,  yMax:31.5, dec:0, yName:33, xGap:26},
  B:{left:233,top:5,   width:143, height:146, xMin:5.9,   xMax:16.7,  yMin:-1.2,  yMax:25.5, dec:0, xGap:26},
  C:{left:416,top:5,   width:152, height:146, xMin:-0.135,xMax:6.11,  yMin:-0.29, yMax:6.06, dec:0, xGap:26},
  D:{left:607,top:5,   width:150, height:146, xMin:4.91,  xMax:15.55, yMin:-0.23, yMax:4.78, dec:1, xGap:26},
  E:{left:43, top:216, width:147, height:145, xMin:8.76,  xMax:20.5,  yMin:-0.225,yMax:4.725,dec:1, yName:25, xGap:26},
  F:{left:224,top:216, width:151, height:145, xMin:13.71, xMax:24.5,  yMin:-0.35, yMax:7.27, dec:0, xGap:26},
  G:{left:415,top:216, width:153, height:145, xMin:18.08, xMax:25.83, yMin:-0.56, yMax:11.8, dec:0, xGap:26},
  H:{left:606,top:216, width:151, height:145, xMin:15.54, xMax:24.8,  yMin:-0.225,yMax:4.725,dec:1, xGap:26},
  I:{left:43, top:425, width:147, height:144, xMin:19.12, xMax:32.0,  yMin:-0.39, yMax:8.19, dec:1, yName:25, xGap:24},
  J:{left:224,top:425, width:151, height:144, xMin:17.16, xMax:23.2,  yMin:-0.29, yMax:6.11, dec:0, xGap:24},
  K:{left:415,top:425, width:153, height:144, xMin:9.93,  xMax:21.0,  yMin:-0.29, yMax:6.11, dec:1, xGap:24}
};

const GENE_BOX = {
  A:{name:'Mipp2',   x:6.21,  w:54},
  B:{name:'dsh',     x:11.26, w:36},
  C:{name:'Pi3K21B', x:1.10,  w:70},
  D:{name:'Lip4',    x:10.51, w:40},
  E:{name:'PRAS40',  x:14.72, w:71},
  F:{name:'hppy',    x:19.17, w:45},
  G:{name:'Pi3K59F', x:23.57, w:68},
  H:{name:'slif',    x:22.96, w:30},
  I:{name:'REPTOR',  x:25.35, w:78}
};

const LETTERS = [['A',3,4],['B',188,4],['C',391,2],['D',585,2],['E',2,202],['F',195,202],['G',391,202],['H',584,202],['I',4,408],['J',196,405],['K',391,405]];

const COLORS = ['#6a7e46','#d6f283','#cdb894','#5f88b8','#e97b52','#cdcdcd'];
const FONT = '"Liberation Sans", Arial, Helvetica, sans-serif';
const IDS = ['A','B','C','D','E','F','G','H','I','J','K'];

const grids=[], xAxes=[], yAxes=[], series=[], graphics=[];
IDS.forEach((id, i) => {
  const d = DATA[id], L = LAYOUT[id];
  grids.push({left:L.left, top:L.top, width:L.width, height:L.height, containLabel:false, show:false});
  const fmt = v => Number(v).toFixed(L.dec);
  xAxes.push({
    gridIndex:i, type:'value', min:L.xMin, max:L.xMax, position:'bottom',
    axisLine:{show:true, onZero:false, lineStyle:{color:'#000', width:1.2}},
    axisTick:{show:true, length:4, customValues:d.xt, lineStyle:{color:'#000', width:1.2}},
    axisLabel:{show:true, customValues:d.xt, formatter:fmt, fontSize:14, color:'#111', margin:4, fontFamily:FONT,
      showMinLabel:true, showMaxLabel:true, hideOverlap:false},
    splitLine:{show:false},
    name:d.xName, nameLocation:'middle', nameGap:L.xGap,
    nameTextStyle:{fontSize:15, color:'#111', fontFamily:FONT}
  });
  const ya = {
    gridIndex:i, type:'value', min:L.yMin, max:L.yMax, position:'left',
    axisLine:{show:true, onZero:false, lineStyle:{color:'#000', width:1.2}},
    axisTick:{show:true, length:4, customValues:d.yt, lineStyle:{color:'#000', width:1.2}},
    axisLabel:{show:true, customValues:d.yt, formatter:v=>String(v), fontSize:15, color:'#111', margin:4, fontFamily:FONT,
      showMinLabel:true, showMaxLabel:true},
    splitLine:{show:false}
  };
  if (L.yName) {
    ya.name = '-log{s|10}(P-value)';
    ya.nameLocation = 'middle';
    ya.nameGap = L.yName;
    ya.nameRotate = 90;
    ya.nameTextStyle = {fontSize:15, color:'#111', fontFamily:FONT, lineHeight:16,
      rich:{s:{fontSize:10, lineHeight:6, verticalAlign:'bottom', color:'#111', fontFamily:FONT}}};
  }
  yAxes.push(ya);

  d.s.forEach((vals, j) => {
    const s = {
      type:'line', name:TREATMENTS[j], xAxisIndex:i, yAxisIndex:i,
      data:d.x.map((xv,k)=>[xv, vals[k]]),
      showSymbol:false, symbol:'none', color:COLORS[j],
      lineStyle:{width:1.3, color:COLORS[j]}, itemStyle:{color:COLORS[j]},
      animation:false, silent:true, z:2
    };
    if (j === 0) {
      s.markLine = {silent:true, symbol:'none', label:{show:false}, animation:false,
        data:[
          {yAxis:d.thr[0], lineStyle:{type:'solid', color:'#c4c4c4', width:1.5}},
          {yAxis:d.thr[1], lineStyle:{type:[1.5,4.5], color:'#c4c4c4', width:1.5}}
        ]};
    }
    series.push(s);
  });

  const gb = GENE_BOX[id];
  if (gb) {
    series.push({
      type:'custom', name:'gene_'+id, xAxisIndex:i, yAxisIndex:i, clip:true, z:5, silent:true, animation:false,
      data:[[gb.x, 0]],
      renderItem:(params, api) => {
        const p = api.coord([api.value(0), 0]);
        return {type:'group', children:[
          {type:'rect', shape:{x:p[0]-gb.w/2, y:p[1]-12, width:gb.w, height:40, r:4},
           style:{fill:'#fff', stroke:'#000', lineWidth:1}},
          {type:'text', style:{text:gb.name, x:p[0], y:p[1]-7, align:'center', verticalAlign:'top',
           font:'italic 16px ' + FONT, fill:'#000'}}
        ]};
      }
    });
  }
});

LETTERS.forEach(([t,x,y]) => graphics.push({type:'text', left:x, top:y, z:10,
  style:{text:t, font:'bold 15px ' + FONT, fill:'#000'}}));
graphics.push({type:'text', left:244, top:441, z:10, style:{text:'Ilp5', font:'italic 16px ' + FONT, fill:'#d0191f'}});
graphics.push({type:'text', left:421, top:441, z:10, style:{text:'step', font:'italic 16px ' + FONT, fill:'#d0191f'}});
graphics.push({type:'text', left:607, top:473, z:10, style:{text:'Treatment', font:'20px ' + FONT, fill:'#111'}});

const legendCommon = {orient:'vertical', icon:'rect', itemWidth:17, itemHeight:4, itemGap:3.5, selectedMode:false,
  textStyle:{fontSize:17, color:'#111', fontFamily:FONT, lineHeight:17, padding:[0,0,0,0]}};

const option = {
  animation:false,
  textStyle:{fontFamily:FONT},
  grid:grids, xAxis:xAxes, yAxis:yAxes, series:series, graphic:graphics,
  legend:[
    Object.assign({}, legendCommon, {data:['HS','C','DR'], left:609, top:499}),
    Object.assign({}, legendCommon, {data:['C/DR','C/HS','HS/DR'], left:662, top:499})
  ]
};

const chart = echarts.init(document.getElementById('c'), null, {renderer:'canvas', width:762, height:609});
chart.setOption(option);
</script>
</body></html>
